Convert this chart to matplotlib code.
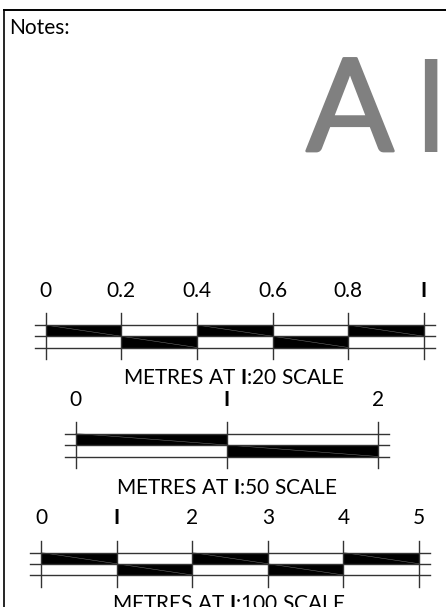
import numpy as np
import matplotlib
matplotlib.use('Agg')
import matplotlib.pyplot as plt
import matplotlib.patheffects as pe

plt.rcParams['font.family'] = ['Lato', 'DejaVu Sans']
plt.rcParams['mathtext.fontset'] = 'custom'
plt.rcParams['mathtext.bf'] = 'Lato:bold'

# Подписи шкал. В исходном шрифте цифра 1 выглядит как прямая черта, поэтому буква I
ticks_20 = [0, 0.2, 0.4, 0.6, 0.8, 1]
labels_20 = ['0', '0.2', '0.4', '0.6', '0.8', 'I']
ticks_50 = [0, 1, 2]
labels_50 = ['0', 'I', '2']
ticks_100 = [0, 1, 2, 3, 4, 5]
labels_100 = ['0', 'I', '2', '3', '4', '5']

title_20 = r'METRES AT $\mathbf{I}$:20 SCALE'
title_50 = r'METRES AT $\mathbf{I}$:50 SCALE'
title_100 = r'METRES AT $\mathbf{I}$:100 SCALE'

W, H = 446, 607
fig = plt.figure(figsize=(W / 100, H / 100), dpi=100)
ax = fig.add_axes([0, 0, 1, 1])
ax.set_xlim(0, W)
ax.set_ylim(H, 0)
ax.axis('off')


def draw_scale(ticks, labels, title, x0, x1, y_top, y_bot, over, label_y, title_x, title_y):
    # Переводим значения шкалы в пиксели
    ticks = np.array(ticks, dtype=float)
    px = x0 + (ticks - ticks[0]) / (ticks[-1] - ticks[0]) * (x1 - x0)
    y_mid = (y_top + y_bot) / 2

    # Черные блоки в шахматном порядке
    for i in range(len(px) - 1):
        top = y_top if i % 2 == 0 else y_mid
        bot = y_mid if i % 2 == 0 else y_bot
        ax.fill([px[i], px[i + 1], px[i + 1], px[i]], [top, top, bot, bot], color='black', lw=0)
        # Тонкая светлая диагональ внутри блока
        ax.plot([px[i], px[i + 1]], [top, bot], color='#777777', lw=0.35)

    # Горизонтальные линии
    for y in [y_top, y_mid, y_bot]:
        ax.plot([x0 - over, x1 + over], [y, y], color='#333333', lw=1)

    # Вертикальные засечки и подписи
    for x, lab in zip(px, labels):
        ax.plot([x, x], [y_top - 12, y_bot + 11.5], color='#333333', lw=1)
        ax.text(x, label_y, lab, ha='center', va='center', fontsize=15, color='black',
                fontweight='bold' if lab == 'I' else 'normal')

    ax.text(title_x, title_y, title, ha='center', va='center', fontsize=15, color='black')


# Рамка листа
ax.plot([3.5, 3.5], [H, 9.5], color='black', lw=1.2)
ax.plot([3.5, 446], [9.5, 9.5], color='black', lw=1.4)

ax.text(9, 28, 'Notes:', ha='left', va='center', fontsize=15, color='black')
big_a = ax.text(350, 151, 'A', ha='center', va='baseline', fontsize=93, color='#808080')
big_a.set_path_effects([pe.withStroke(linewidth=2, foreground='#808080')])
ax.text(430, 152, 'I', ha='center', va='baseline', fontsize=93, color='#808080')

draw_scale(ticks_20, labels_20, title_20, 45.5, 424, 325, 347.5, 11, 291, 234, 378)
draw_scale(ticks_50, labels_50, title_50, 75.7, 378, 433.5, 456.5, 11, 400, 227, 488)
draw_scale(ticks_100, labels_100, title_100, 41, 419, 552.5, 575, 11, 518, 229, 604)

fig.savefig('out.png', dpi=100)
